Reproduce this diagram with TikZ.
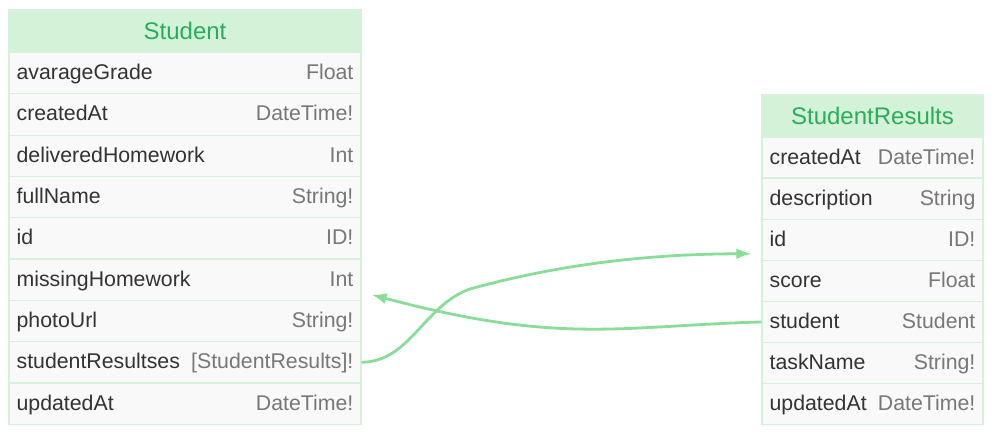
\documentclass[tikz,border=0pt]{standalone}
\usepackage{fontspec}
\setmainfont{Liberation Sans}
\usetikzlibrary{arrows.meta,calc}
\definecolor{hdrfill}{RGB}{211,242,216}
\definecolor{hdrtext}{RGB}{40,174,90}
\definecolor{rowfill}{RGB}{249,249,249}
\definecolor{rowline}{RGB}{213,240,219}
\definecolor{nametext}{RGB}{51,51,51}
\definecolor{typetext}{RGB}{119,119,119}
\definecolor{linkcol}{RGB}{137,221,152}
\begin{document}
\begin{tikzpicture}[x=1pt,y=-1pt,
  hdr/.style={draw=rowline, line width=1.2pt, fill=hdrfill, minimum height=42.5pt, inner sep=0pt, text=hdrtext, font=\fontsize{24}{28}\selectfont},
  rowbox/.style={draw=rowline, line width=1.2pt, fill=rowfill, inner sep=0pt, minimum height=41.3pt},
  fname/.style={anchor=base west, text=nametext, inner sep=0pt, font=\fontsize{21.3}{25}\selectfont},
  ftype/.style={anchor=base east, text=typetext, inner sep=0pt, font=\fontsize{21.3}{25}\selectfont},
  link/.style={draw=linkcol, line width=2.8pt, -{Latex[length=15pt,width=11pt]}}]
\useasboundingbox (0,0) rectangle (1001,436);
% Student
\node[hdr, minimum width=352pt] (sh) at (185,31.25) {Student};
\foreach \n/\t [count=\i] in {avarageGrade/Float, createdAt/DateTime!, deliveredHomework/Int, fullName/String!, id/ID!, missingHomework/Int, photoUrl/String!, studentResultses/{[StudentResults]!}, updatedAt/DateTime!}{
  \node[rowbox, minimum width=352pt] (s\i) at (185,{52.5+41.3*(\i-0.5)}) {};
  \node[fname] (sn\i) at ($(s\i.west)+(8,6.5)$) {\n};
  \node[ftype] (st\i) at ($(s\i.east)+(-8,6.5)$) {\t};
}
% StudentResults
\node[hdr, minimum width=221pt] (rh) at (872.5,116) {StudentResults};
\foreach \n/\t [count=\i] in {createdAt/DateTime!, description/String, id/ID!, score/Float, student/Student, taskName/String!, updatedAt/DateTime!}{
  \node[rowbox, minimum width=221pt] (r\i) at (872.5,{137+41.1*(\i-0.5)}) {};
  \node[fname] (rn\i) at ($(r\i.west)+(8,6.5)$) {\n};
  \node[ftype] (rt\i) at ($(r\i.east)+(-8,6.5)$) {\t};
}
% links
\coordinate (t1) at ($(r3.west)+(-10,14)$);
\coordinate (t2) at ($(s6.east)+(10,15)$);
\draw[link] (s8.east) .. controls (410,362) and (424,305) .. (470,289) .. controls (560,264) and (650,254) .. (t1);
\draw[link] (r5.west) .. controls (620,326) and (560,345) .. (t2);
\end{tikzpicture}
\end{document}
